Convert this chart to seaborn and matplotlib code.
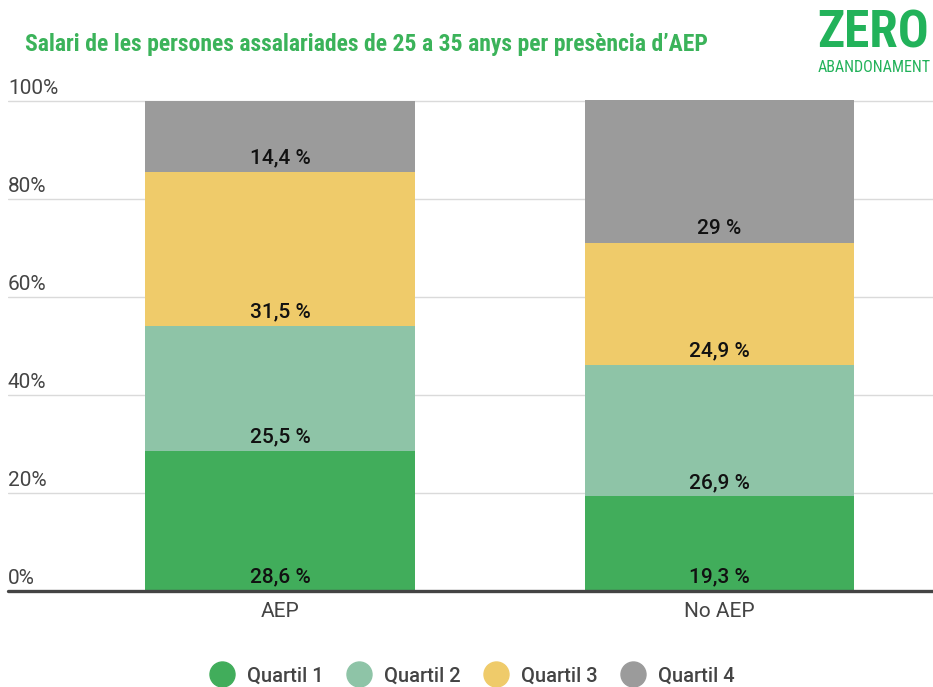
import numpy as np
import pandas as pd
import matplotlib
matplotlib.use("Agg")
from matplotlib import pyplot as plt
from matplotlib.lines import Line2D
import seaborn as sns

# data
groups = ["AEP", "No AEP"]
quartils = ["Quartil 1", "Quartil 2", "Quartil 3", "Quartil 4"]
aep = [28.6, 25.5, 31.5, 14.4]
no_aep = [19.3, 26.9, 24.9, 29.0]
colors = ["#41AD5B", "#8EC4A7", "#EFCB6A", "#9B9B9B"]
yticks = [0, 20, 40, 60, 80, 100]

sns.set_style("white")
plt.rcParams["font.family"] = ["Roboto", "DejaVu Sans"]
cond = ["Roboto Condensed", "Liberation Sans Narrow", "Roboto", "DejaVu Sans"]

df = pd.DataFrame({"grup": np.repeat(groups, 4),
                   "quartil": quartils * 2,
                   "valor": aep + no_aep})
df["cum"] = df.groupby("grup")["valor"].cumsum()
df["base"] = df["cum"] - df["valor"]

fig = plt.figure(figsize=(9.33, 6.87), dpi=100)
ax = fig.add_axes([8 / 933, 96 / 687, 925 / 933, 491 / 687])

# gridlines first so bars sit on top
for t in yticks:
    ax.axhline(t, color="#DADADA", lw=1, zorder=0)

# stacked bars: draw cumulative heights from the top quartile down
for q, c in zip(quartils[::-1], colors[::-1]):
    sub = df[df["quartil"] == q]
    sns.barplot(data=sub, x="grup", y="cum", order=groups, color=c,
                width=0.614, saturation=1, linewidth=0, ax=ax, zorder=2)

def fmt(v):
    s = ("%.1f" % v).rstrip("0").rstrip(".")
    return s.replace(".", ",") + " %"

for _, r in df.iterrows():
    xi = groups.index(r["grup"])
    ax.annotate(fmt(r["valor"]), (xi, r["base"]), xytext=(0, 10),
                textcoords="offset points", ha="center", va="center",
                fontsize=15, fontweight="medium", color="#111111", zorder=5)

ax.axhline(0, color="#444444", lw=2.4, zorder=6, clip_on=False)

ax.set_xlim(-0.619, 1.486)
ax.set_ylim(0, 100.2)
ax.set_yticks([])
ax.set_xlabel("")
ax.set_ylabel("")
ax.tick_params(axis="x", length=0, pad=8, labelsize=15, labelcolor="#444444")
for s in ax.spines.values():
    s.set_visible(False)

for t in yticks:
    ax.annotate("%d%%" % t, (0, t), xycoords=("axes fraction", "data"),
                xytext=(0, 2), textcoords="offset points", ha="left", va="bottom",
                fontsize=15, color="#444444")

fig.text(25 / 933, 1 - 44 / 687,
         "Salari de les persones assalariades de 25 a 35 anys per presència d\u2019AEP",
         family=cond, fontsize=17, fontweight="bold", color="#3BB35A",
         ha="left", va="center")

# logo
fig.text(817 / 933, 1 - 33 / 687, "ZERO", fontsize=37, fontweight="heavy",
         color="#22B25A", ha="left", va="center", family=cond)
fig.text(818 / 933, 1 - 67 / 687, "ABANDONAMENT", fontsize=11.5,
         color="#22B25A", ha="left", va="center", family=cond)

handles = [Line2D([], [], marker="o", ls="", markersize=18, color=c) for c in colors]
leg = fig.legend(handles, quartils, loc="center", bbox_to_anchor=(472 / 933, 1 - 676 / 687),
                 ncol=4, frameon=False, fontsize=14.5, labelcolor="#444444",
                 handletextpad=0.6, columnspacing=1.1, handlelength=1.3)
for t in leg.get_texts():
    t.set_fontweight("medium")

fig.savefig("out.png", dpi=100)
